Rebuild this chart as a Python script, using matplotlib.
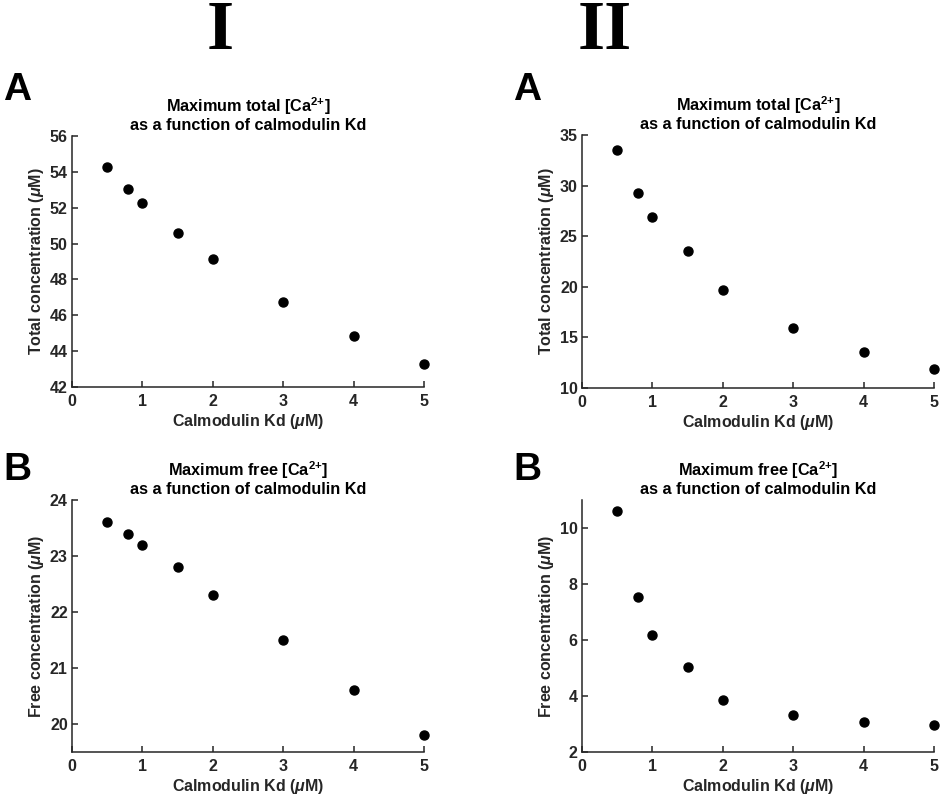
import matplotlib.pyplot as plt

plt.rcParams['font.family'] = ['Liberation Sans', 'DejaVu Sans']
plt.rcParams['font.weight'] = 'bold'
plt.rcParams['mathtext.fontset'] = 'custom'
plt.rcParams['mathtext.rm'] = 'Liberation Sans:bold'
plt.rcParams['mathtext.bf'] = 'Liberation Sans:bold'
plt.rcParams['mathtext.it'] = 'Liberation Sans:italic'

kd = [0.5, 0.8, 1.0, 1.5, 2.0, 3.0, 4.0, 5.0]
total_I = [54.27, 53.03, 52.27, 50.59, 49.12, 46.75, 44.83, 43.27]
free_I = [23.60, 23.40, 23.20, 22.80, 22.30, 21.50, 20.60, 19.80]
total_II = [33.52, 29.22, 26.85, 23.57, 19.69, 15.91, 13.51, 11.87]
free_II = [10.61, 7.52, 6.17, 5.05, 3.87, 3.31, 3.08, 2.97]

xticks = [0, 1, 2, 3, 4, 5]
W, H = 941, 798
ink = '#262626'

fig = plt.figure(figsize=(W / 100, H / 100), dpi=100)


def make_ax(left, right, top, bottom):
    return fig.add_axes([left / W, 1 - bottom / H, (right - left) / W, (bottom - top) / H])


# axes, values, y-limits, y-ticks, title word, ylabel, letter, letter x, letter baseline y
panels = [
    (make_ax(72, 424, 136, 387), total_I, (42, 56), range(42, 57, 2),
     'total', 'Total concentration ($\\mu$M)', 'A', 3, 100),
    (make_ax(582, 934, 135, 388), total_II, (10, 35), range(10, 36, 5),
     'total', 'Total concentration ($\\mu$M)', 'A', 513, 100),
    (make_ax(72, 424, 500, 752), free_I, (19.5, 24), range(20, 25),
     'free', 'Free concentration ($\\mu$M)', 'B', 3, 480),
    (make_ax(582, 934, 500, 752), free_II, (2, 11), range(2, 11, 2),
     'free', 'Free concentration ($\\mu$M)', 'B', 513, 480),
]

for ax, vals, ylim, yt, kind, ylab, letter, lx, ly in panels:
    ax.plot(kd, vals, 'o', color='black', ms=6.5, clip_on=False)
    ax.set_xlim(0, 5)
    ax.set_ylim(*ylim)
    ax.set_xticks(xticks)
    ax.set_yticks(list(yt))
    ax.spines['top'].set_visible(False)
    ax.spines['right'].set_visible(False)
    for s in ('left', 'bottom'):
        ax.spines[s].set_linewidth(1.1)
        ax.spines[s].set_color(ink)
    ax.tick_params(direction='in', length=4, width=1.1, color=ink,
                   labelsize=11.5, labelcolor=ink)
    ax.tick_params(axis='x', pad=5)
    ax.tick_params(axis='y', pad=3)
    for lab in ax.get_xticklabels() + ax.get_yticklabels():
        lab.set_fontweight('bold')
    ax.set_title('Maximum %s [Ca$^{2\\text{+}}$]\nas a function of calmodulin Kd' % kind,
                 fontsize=11.7, fontweight='bold', color='black', pad=4, linespacing=1.1)
    ax.set_xlabel('Calmodulin Kd ($\\mu$M)', fontsize=11.5, fontweight='bold',
                  color=ink, labelpad=2)
    ax.set_ylabel(ylab, fontsize=11.5, fontweight='bold', color=ink, labelpad=3)
    fig.text(lx / W, 1 - ly / H, letter, fontsize=28, fontweight='bold',
             ha='left', va='baseline')

fig.text(220 / W, 1 - 49 / H, 'I', fontsize=50, fontweight='bold',
         family='Liberation Serif', ha='center', va='baseline')
fig.text(605 / W, 1 - 49 / H, 'II', fontsize=50, fontweight='bold',
         family='Liberation Serif', ha='center', va='baseline')

fig.savefig('out.png', dpi=100)
